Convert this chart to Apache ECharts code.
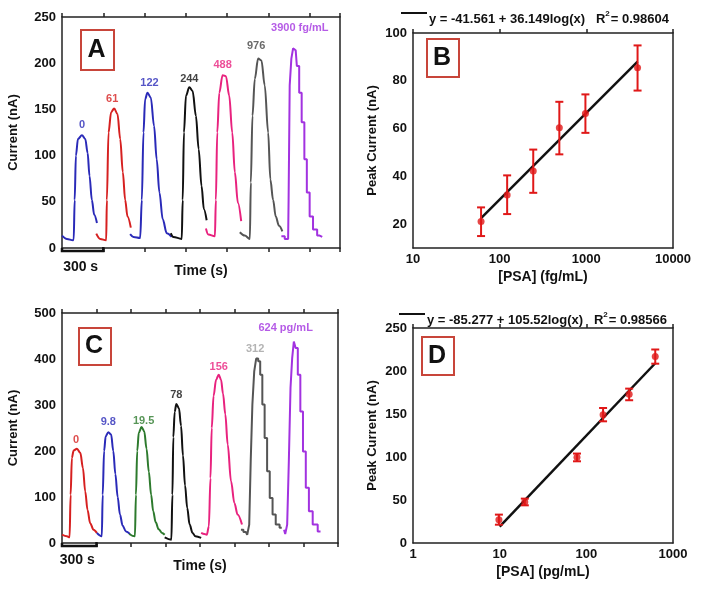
<!DOCTYPE html>
<html><head><meta charset="utf-8">
<script src="https://cdn.jsdelivr.net/npm/echarts@6/dist/echarts.min.js"></script>
<style>html,body{margin:0;padding:0;background:#fff}#c{width:704px;height:591px}</style>
</head><body><div id="c"></div>
<script>
// ---------- Panel A: amperometric traces (time s, current nA) ----------
const a0    = [[0,13.4],[36,9.8],[80,8.3],[85,9],[92,52],[101,100],[116,118],[145,122],[169,118],[186,103],[200,78],[217,52],[234,36],[254,27]];
const a61   = [[249,15.6],[278,9.8],[321,8.3],[326,52],[338,125],[357,147],[379,151],[403,145],[423,118],[442,82],[459,52],[476,34],[500,22]];
const a122  = [[495,15],[519,12],[568,10.9],[580,52],[592,125],[604,161],[621,168],[645,163],[669,132],[688,96],[708,60],[732,31],[761,16],[797,12]];
const a244  = [[790,16],[809,12],[870,9.8],[877,52],[886,125],[901,165],[925,174],[949,170],[973,143],[993,107],[1014,67],[1031,42],[1051,30]];
const a488  = [[1046,21],[1063,14.5],[1111,12.7],[1118,52],[1128,125],[1143,168],[1167,187],[1191,186],[1215,165],[1237,125],[1256,82],[1278,49],[1302,29]];
const a976  = [[1292,17],[1328,13.4],[1365,9.8],[1372,71],[1384,143],[1401,183],[1425,205],[1449,203],[1473,176],[1498,125],[1514,74],[1534,52],[1553,34],[1577,24],[1601,18]];
const a3900 = [[1594,12.7],[1643,9.8],[1650,52],[1659,176],[1674,205],[1684,216],[1698,214],[1715,197],[1732,168],[1751,136],[1771,96],[1787,60],[1812,34],[1836,20],[1872,13.4],[1891,12]];
const labelsA = ['0','61','122','244','488','976','3900 fg/mL'];

// ---------- Panel C: amperometric traces ----------
const c0    = [[0,18],[43,14.5],[66,12.3],[75,105],[86,185],[101,201],[130,205],[159,196],[182,163],[202,112],[222,72],[245,43],[274,29],[303,22]];
const c9_8  = [[303,22],[346,14.5],[354,105],[366,200],[380,232],[403,241],[427,236],[446,200],[464,150],[484,100],[504,62],[527,38],[556,25],[591,19.6]];
const c19_5 = [[585,19.6],[634,14.5],[643,105],[654,200],[668,240],[692,252],[715,243],[735,205],[755,155],[775,105],[793,69],[815,45],[840,30],[870,22],[893,18]];
const c78   = [[893,12.3],[951,7.2],[960,105],[968,230],[980,285],[994,302],[1017,293],[1035,255],[1052,190],[1070,125],[1089,76],[1110,40],[1135,22],[1160,14.5],[1210,11]];
const c156  = [[1210,22],[1239,19.6],[1259,18],[1277,36],[1291,141],[1302,250],[1318,320],[1340,355],[1363,366],[1383,355],[1400,325],[1420,280],[1441,214],[1470,134],[1499,87],[1527,62],[1565,40]];
const c312  = [[1556,29],[1599,24],[1622,18],[1634,40],[1648,178],[1663,301],[1680,373],[1697,401],[1715,395],[1732,366],[1752,301],[1772,228],[1795,156],[1818,98],[1844,62],[1873,40],[1911,33]];
const c624  = [[1931,29],[1951,19.6],[1965,40],[1980,178],[1994,337],[2009,402],[2023,438],[2040,424],[2061,366],[2084,286],[2107,199],[2133,120],[2161,69],[2199,40],[2248,25]];
const labelsC = ['0','9.8','19.5','78','156','312','624 pg/mL'];

// ---------- Panel B: calibration (fg/mL) ----------
const bConc = [61,122,244,488,976,3900];
const bMean = [21.1,32.2,42.2,60.3,66.3,85.5];
const bLow  = [15,24.2,33.1,49.2,58.2,75.9];
const bHigh = [27,40.4,51.2,71.2,74.3,94.8];
const bFit  = [[61,22.5],[3900,88]];
const bEq   = ['y = -41.561 + 36.149log(x)', '0.98604'];

// ---------- Panel D: calibration (pg/mL) ----------
const dConc = [9.8,19.5,78,156,312,624];
const dMean = [27.1,47.7,99.6,149,173,217];
const dLow  = [21.3,43.8,95,141.5,166,208.5];
const dHigh = [33,51.6,104,157,179.5,225];
const dFit  = [[10,19],[624,209]];
const dEq   = ['y = -85.277 + 105.52log(x)', '0.98566'];

const yTicksA = [0, 250, 50];
const yTicksC = [0, 500, 100];

// ---------- styles ----------
const FF = "'Liberation Sans', Arial, sans-serif";
const AX = '#222';
const colA = ['#2a2ab8','#d62020','#2a2ab8','#111111','#e8227e','#555555','#a232e0'];
const labColA = ['#2a2ab8','#d62020','#2a2ab8','#111111','#e8227e','#444444','#a232e0'];
const stepA = [false,false,false,false,false,false,'middle'];
const offA = [[0,0],[-2,0],[2,0],[0,2],[0,0],[-2,-3],[6,-10]];
const colC = ['#d62020','#2a2ab8','#2d7a2d','#111111','#e8227e','#555555','#a232e0'];
const labColC = ['#d62020','#2a2ab8','#2d7a2d','#111111','#e8227e','#a0a0a0','#a232e0'];
const stepC = [false,false,false,false,false,'middle','middle'];
const offC = [[-1,1],[0,0],[2,4],[0,1],[0,2],[-2,0],[-9,-4]];

const grids = [
  {left:62, top:17, width:278, height:231},
  {left:413, top:33, width:260, height:215},
  {left:62, top:313, width:276, height:230},
  {left:413, top:328, width:260, height:215}
];

const lineAx = {show:true, onZero:false, lineStyle:{color:AX, width:1.5}};
const nameStyle = {fontFamily:FF, fontWeight:'bold', fontSize:14, color:'#111'};
const yNameStyle = {fontFamily:FF, fontWeight:'bold', fontSize:13, color:'#111'};
const lblStyle = {fontFamily:FF, fontWeight:'bold', fontSize:13, color:'#111'};

function timeAxes(g, max) {
  const common = {type:'value', gridIndex:g, min:0, max:max, interval:300,
    axisLine:lineAx, axisTick:{show:true, inside:false, length:4, lineStyle:{color:AX, width:1.5}},
    axisLabel:{show:false}, splitLine:{show:false}};
  return [
    Object.assign({}, common, {position:'bottom', name:'Time (s)', nameLocation:'middle', nameGap:16, nameTextStyle:nameStyle}),
    Object.assign({}, common, {position:'top'})
  ];
}
function logAxes(g, min, max, name) {
  const common = {type:'log', logBase:10, gridIndex:g, min:min, max:max,
    axisLine:lineAx, splitLine:{show:false}, minorTick:{show:false}};
  return [
    Object.assign({}, common, {position:'bottom', axisTick:{show:false},
      axisLabel:Object.assign({margin:5, formatter:v => String(Math.round(v))}, lblStyle),
      name:name, nameLocation:'middle', nameGap:22, nameTextStyle:nameStyle}),
    Object.assign({}, common, {position:'top', axisTick:{show:true, inside:false, length:4, lineStyle:{color:AX, width:1.5}}, axisLabel:{show:false}})
  ];
}
function yAxes(g, min, max, interval, name, gap, fmt) {
  return [
    {type:'value', gridIndex:g, min:min, max:max, interval:interval, position:'left',
     axisLine:lineAx, axisTick:{show:false}, splitLine:{show:false},
     axisLabel:Object.assign({margin:6, formatter:fmt || (v => String(v))}, lblStyle),
     name:name, nameLocation:'middle', nameGap:gap, nameRotate:90, nameTextStyle:yNameStyle},
    {type:'value', gridIndex:g, min:min, max:max, position:'right',
     axisLine:lineAx, axisTick:{show:false}, axisLabel:{show:false}, splitLine:{show:false}}
  ];
}

const xAxes = [].concat(
  timeAxes(0, 2020),
  logAxes(1, 10, 10000, '[PSA] (fg/mL)'),
  timeAxes(2, 2400),
  logAxes(3, 1, 1000, '[PSA] (pg/mL)')
);
const yAxesAll = [].concat(
  yAxes(0, yTicksA[0], yTicksA[1], yTicksA[2], 'Current (nA)', 42),
  yAxes(1, 10, 100, 10, 'Peak Current (nA)', 34, v => (v % 20 === 0 ? String(v) : '')),
  yAxes(2, yTicksC[0], yTicksC[1], yTicksC[2], 'Current (nA)', 42),
  yAxes(3, 0, 250, 50, 'Peak Current (nA)', 34)
);

const series = [];
function traces(segs, labels, cols, labCols, steps, offs, axIdx) {
  const labelData = [];
  segs.forEach((seg, i) => {
    series.push({type:'line', xAxisIndex:axIdx, yAxisIndex:axIdx, data:seg, showSymbol:false, symbol:'none',
      step:steps[i], smooth:steps[i] ? false : 0.35, smoothMonotone:'x',
      lineStyle:{color:cols[i], width:2}, animation:false, silent:true, z:3});
    let pk = seg[0];
    seg.forEach(p => { if (p[1] > pk[1]) pk = p; });
    labelData.push({value:pk, name:labels[i],
      label:{color:labCols[i], offset:offs[i]}});
  });
  series.push({type:'scatter', xAxisIndex:axIdx, yAxisIndex:axIdx, data:labelData, symbolSize:1,
    itemStyle:{color:'rgba(0,0,0,0)'}, animation:false, silent:true, z:4,
    label:{show:true, position:'top', distance:4, formatter:p => p.name,
      fontFamily:FF, fontWeight:'bold', fontSize:11}});
}
traces([a0,a61,a122,a244,a488,a976,a3900], labelsA, colA, labColA, stepA, offA, 0);
traces([c0,c9_8,c19_5,c78,c156,c312,c624], labelsC, colC, labColC, stepC, offC, 4);

function errRender(params, api) {
  const x = api.value(0), lo = api.value(1), hi = api.value(2);
  const pLo = api.coord([x, lo]), pHi = api.coord([x, hi]);
  const w = 4;
  const st = {stroke:'#e01818', lineWidth:2};
  return {type:'group', children:[
    {type:'line', shape:{x1:pLo[0], y1:pLo[1], x2:pHi[0], y2:pHi[1]}, style:st},
    {type:'line', shape:{x1:pLo[0]-w, y1:pLo[1], x2:pLo[0]+w, y2:pLo[1]}, style:st},
    {type:'line', shape:{x1:pHi[0]-w, y1:pHi[1], x2:pHi[0]+w, y2:pHi[1]}, style:st}
  ]};
}
function calib(conc, mean, low, high, fit, axIdx) {
  series.push({type:'line', xAxisIndex:axIdx, yAxisIndex:axIdx, data:fit, showSymbol:false, symbol:'none',
    lineStyle:{color:'#111', width:2.5}, animation:false, silent:true, z:3});
  series.push({type:'custom', xAxisIndex:axIdx, yAxisIndex:axIdx, renderItem:errRender,
    data:conc.map((c,i) => [c, low[i], high[i]]), encode:{x:0, y:[1,2]}, animation:false, silent:true, z:4});
  series.push({type:'scatter', xAxisIndex:axIdx, yAxisIndex:axIdx, data:conc.map((c,i) => [c, mean[i]]),
    symbolSize:7, itemStyle:{color:'#e01818'}, animation:false, silent:true, z:5});
}
calib(bConc, bMean, bLow, bHigh, bFit, 2);
calib(dConc, dMean, dLow, dHigh, dFit, 6);

const chart = echarts.init(document.getElementById('c'), null, {renderer:'canvas'});
chart.setOption({
  animation:false,
  backgroundColor:'#fff',
  grid:grids,
  xAxis:xAxes,
  yAxis:yAxesAll,
  series:series
});

// ---------- annotations ----------
const graphics = [];
function letterBox(x, y, w, h, t) {
  graphics.push({type:'rect', left:x, top:y, shape:{width:w, height:h}, style:{fill:'#fff', stroke:'#c8453a', lineWidth:2}, z:10});
  graphics.push({type:'text', x:x + w/2, y:y + h/2 + 1, style:{text:t, fill:'#111', font:"bold 25px " + FF, align:'center', verticalAlign:'middle'}, z:11});
}
letterBox(80, 29, 33, 40, 'A');
letterBox(426, 38, 32, 38, 'B');
letterBox(78, 327, 32, 37, 'C');
letterBox(421, 336, 32, 38, 'D');

function equation(x, y, eq) {
  graphics.push({type:'line', shape:{x1:x, y1:y - 5, x2:x + 26, y2:y - 5}, style:{stroke:'#111', lineWidth:2}});
  graphics.push({type:'text', x:x + 28, y:y, style:{
    text:'{t|' + eq[0] + '   R}{s|2}{t|= ' + eq[1] + '}',
    verticalAlign:'middle',
    rich:{t:{font:"bold 13px " + FF, fill:'#111', lineHeight:16, verticalAlign:'bottom'},
          s:{font:"bold 8px " + FF, fill:'#111', lineHeight:16, verticalAlign:'top', padding:[0,1,0,0]}}}});
}
equation(401, 18, bEq);
equation(399, 319, dEq);

function scaleBar(axIdx, yText) {
  const p0 = chart.convertToPixel({xAxisIndex:axIdx, yAxisIndex:axIdx}, [0, 0]);
  const p1 = chart.convertToPixel({xAxisIndex:axIdx, yAxisIndex:axIdx}, [300, 0]);
  graphics.push({type:'polyline', shape:{points:[[p0[0], p0[1]], [p0[0], p0[1] + 3], [p1[0], p1[1] + 3], [p1[0], p1[1] - 1]]},
    style:{stroke:'#111', lineWidth:2.5, fill:null}, z:5});
  graphics.push({type:'text', x:(p0[0] + p1[0]) / 2 - 2, y:p0[1] + yText,
    style:{text:'300 s', font:"bold 14px " + FF, fill:'#111', align:'center', verticalAlign:'middle'}});
}
scaleBar(0, 19);
scaleBar(4, 17);

chart.setOption({graphic:graphics});
</script>
</body></html>
